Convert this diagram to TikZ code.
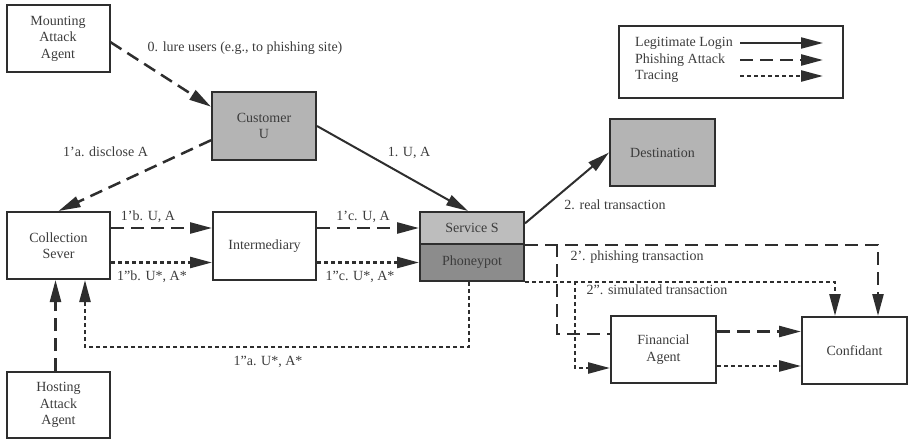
\documentclass[tikz,border=0pt]{standalone}
\usepackage{fontspec}
\setmainfont{Liberation Serif}
\usetikzlibrary{arrows.meta,positioning}

\definecolor{inkc}{HTML}{2E2E2E}
\definecolor{txtc}{HTML}{3C3C3C}
\definecolor{custc}{HTML}{B4B4B4}
\definecolor{servc}{HTML}{BDBDBD}
\definecolor{honeyc}{HTML}{8C8C8C}

\tikzset{
  every node/.style={font=\fontsize{14}{16.5}\selectfont, text=txtc},
  box/.style={draw=inkc, line width=2pt, align=center, inner sep=0pt,
    minimum width=103pt, minimum height=67pt},
  graybox/.style={box, fill=custc},
  lbl/.style={inner sep=1pt},
  tip/.style={-{Triangle[length=22pt,width=11pt]}},
  legit/.style={draw=inkc, line width=2pt, tip},
  phish/.style={draw=inkc, line width=2.5pt, dash pattern=on 13pt off 7pt, tip},
  trace/.style={draw=inkc, line width=2.5pt, dash pattern=on 4pt off 3pt, tip},
  phishline/.style={draw=inkc, line width=2.5pt, dash pattern=on 13pt off 7pt},
}

\begin{document}
\begin{tikzpicture}[x=1pt,y=-1pt]
\useasboundingbox (0,0) rectangle (908,440);

% boxes
\node[box] (mount) at (58,38.5) {Mounting\\Attack\\Agent};

\node[graybox, minimum width=104pt, minimum height=68pt] (cust) at (264,126) {Customer\\U};

\node[graybox, minimum width=105pt] (dest) at (662.5,152.5) {Destination};

\node[box] (coll) at (58.5,245.5) {Collection\\Sever};

\node[box, minimum height=68pt] (inter) at (264.5,246) {Intermediary};

\node[box, fill=servc, minimum width=104pt, minimum height=32pt] (serv) at (472,228) {Service S};

\node[box, fill=honeyc, minimum width=104pt, minimum height=37pt] (phon) at (472,262.5) {Phoneypot};

\node[box, minimum height=66pt] (host) at (58.5,405) {Hosting\\Attack\\Agent};

\node[box, minimum width=105pt] (fin) at (663.5,349.5) {Financial\\Agent};

\node[box, minimum width=105pt] (conf) at (854.5,350.5) {Confidant};

% legend
\node[box, minimum width=224pt, minimum height=72pt] (legend) at (731,62) {};

\node[lbl, anchor=west] (lg1) at (634,43) {Legitimate Login};
\node[lbl, anchor=west] (lg2) at (634,60) {Phishing Attack};
\node[lbl, anchor=west] (lg3) at (634,76) {Tracing};

\coordinate (la1) at (740,43);
\coordinate (lb1) at (823,43);
\coordinate (la2) at (740,60);
\coordinate (lb2) at (823,60);
\coordinate (la3) at (740,76);
\coordinate (lb3) at (823,76);

\draw[legit] (la1) -- (lb1);
\draw[phish] (la2) -- (lb2);
\draw[trace] (la3) -- (lb3);

% connectors
\draw[phish] (mount.-4) -- (cust.160);
\draw[phish] (cust.195) -- (coll.north);
\draw[legit] (cust.east) -- ([xshift=-4pt]serv.north);
\draw[legit] (serv.5) -- (dest.west);

\draw[phish] (coll.east |- serv) -- (inter.west |- serv);
\draw[trace] (coll.east |- phon) -- (inter.west |- phon);
\draw[phish] (inter.east |- serv) -- (serv.west);
\draw[trace] (inter.east |- phon) -- (phon.west);

\draw[phish] ([xshift=-3pt]host.north) -- ([xshift=-3pt]host.north |- coll.south);

\coordinate (tcorner) at (85,347);
\draw[trace] ([xshift=-3pt]phon.south) |- (tcorner) -- (tcorner |- coll.south);

\draw[phish] (serv.south east) -| ([xshift=23.5pt]conf.north);
\coordinate (b1) at (557,244);
\draw[phishline] (b1) |- ([yshift=15.5pt]fin.west);

\draw[trace] (phon.south east) -| ([xshift=-19.5pt]conf.north);
\coordinate (b2) at (575,281);
\draw[trace] (b2) |- ([yshift=-18.5pt]fin.west);

\draw[phish] ([yshift=18pt]fin.east) -- ([yshift=18pt]fin.east -| conf.west);
\draw[trace] ([yshift=-16.5pt]fin.east) -- ([yshift=-16.5pt]fin.east -| conf.west);

% labels
\node[lbl] (l0) at (245,48) {0. lure users (e.g., to phishing site)};
\node[lbl] (l1a) at (105.5,152) {1'a. disclose A};
\node[lbl] (l1) at (409,153) {1. U, A};
\node[lbl] (l2) at (615,205) {2. real transaction};
\node[lbl] (l1b) at (148,217) {1'b. U, A};
\node[lbl] (l1bb) at (152,277) {1''b. U*, A*};
\node[lbl] (l1c) at (363,217) {1'c. U, A};
\node[lbl] (l1cc) at (360,277) {1''c. U*, A*};
\node[lbl] (l1aa) at (268,362) {1''a. U*, A*};
\node[lbl] (l2p) at (637,257) {2'. phishing transaction};
\node[lbl] (l2pp) at (657,290) {2''. simulated transaction};
\end{tikzpicture}
\end{document}
